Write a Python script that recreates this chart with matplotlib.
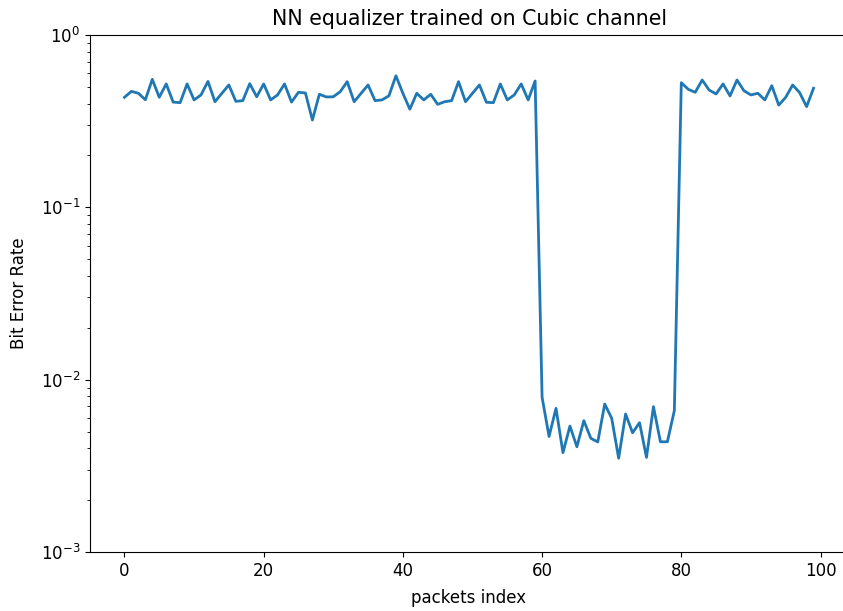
import matplotlib
matplotlib.use("Agg")
import matplotlib.pyplot as plt
import numpy as np

packet_index = list(range(100))
ber = [
    0.435, 0.471, 0.459, 0.421, 0.553, 0.435, 0.520, 0.408, 0.405, 0.520,
    0.420, 0.449, 0.538, 0.410, 0.459, 0.513, 0.412, 0.416, 0.522, 0.438,
    0.520, 0.420, 0.449, 0.520, 0.408, 0.465, 0.461, 0.321, 0.453, 0.437,
    0.438, 0.469, 0.536, 0.410, 0.459, 0.513, 0.416, 0.420, 0.444, 0.580,
    0.459, 0.371, 0.459, 0.420, 0.453, 0.396, 0.410, 0.416, 0.536, 0.410,
    0.459, 0.513, 0.407, 0.405, 0.520, 0.420, 0.449, 0.520, 0.420, 0.541,
    0.0079, 0.00468, 0.00682, 0.00377, 0.00538, 0.00408, 0.00578, 0.00457, 0.00435, 0.00722,
    0.00597, 0.00350, 0.00632, 0.00492, 0.00563, 0.00354, 0.00697, 0.00436, 0.00436, 0.00661,
    0.529, 0.484, 0.465, 0.548, 0.479, 0.455, 0.520, 0.443, 0.548, 0.475,
    0.449, 0.459, 0.420, 0.508, 0.392, 0.435, 0.513, 0.463, 0.384, 0.491,
]

fig = plt.figure(figsize=(8.43, 6.11), dpi=100)
ax = fig.add_axes([90/843, (611-552)/611, 758/843, 517/611])
ax.plot(packet_index, ber, color="#1f77b4", linewidth=2)
ax.set_yscale("log")
ax.set_ylim(1e-3, 1)
ax.set_xticks([0, 20, 40, 60, 80, 100])
ax.tick_params(labelsize=12)
ax.set_title("NN equalizer trained on Cubic channel", fontsize=14.8, pad=7)
ax.set_xlabel("packets index", fontsize=12, labelpad=7)
ax.set_ylabel("Bit Error Rate", fontsize=12, labelpad=9)
fig.savefig("out.png", dpi=100)
